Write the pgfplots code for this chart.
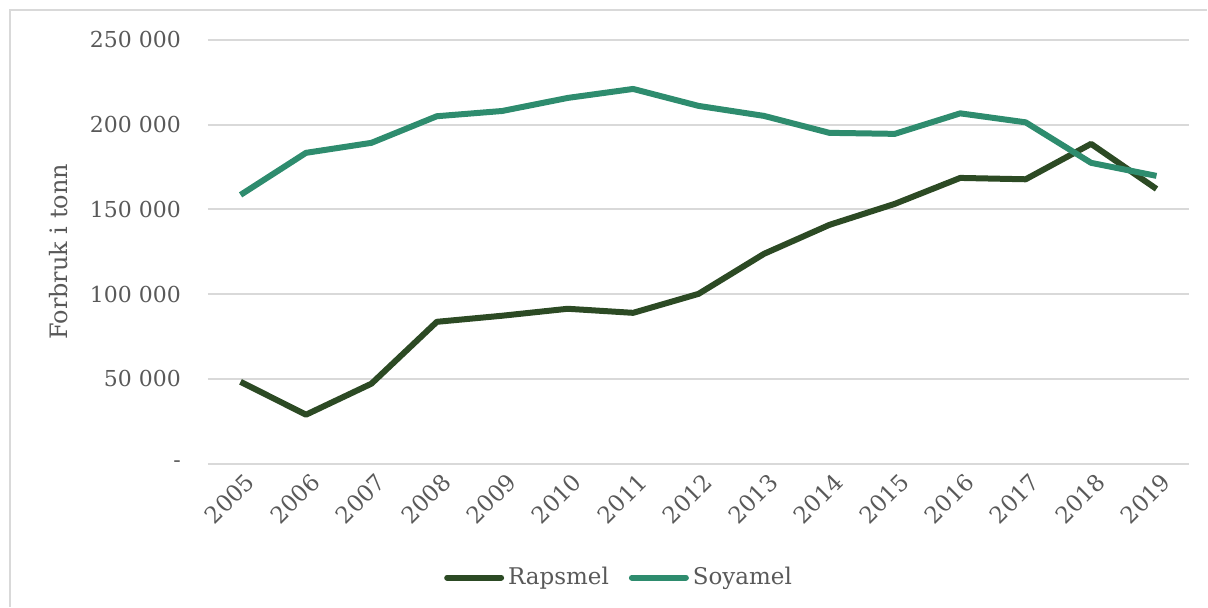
\documentclass[border=0pt]{standalone}
\usepackage{pgfplots}
\pgfplotsset{compat=1.18}
\usepackage{fontspec}
\setmainfont{DejaVu Serif}
\definecolor{rapsc}{HTML}{2C4A24}
\definecolor{soyac}{HTML}{2E8C6E}
\definecolor{txtc}{HTML}{595959}
\definecolor{gridc}{HTML}{D9D9D9}
\begin{document}
\begin{tikzpicture}
% chart frame (1px = 0.5pt)
\path (0,0) rectangle (604pt,303.5pt);
\draw[gridc, line width=0.8pt] (5pt,0) -- (5pt,298.5pt) -- (604pt,298.5pt);
\begin{axis}[
    at={(104pt,71.5pt)}, anchor=south west,
    scale only axis,
    width=491pt, height=212pt,
    xmin=2004.5, xmax=2019.5,
    ymin=0, ymax=250000,
    scaled y ticks=false,
    xtick={2005,...,2019},
    xticklabels={2005,2006,2007,2008,2009,2010,2011,2012,2013,2014,2015,2016,2017,2018,2019},
    ytick={0,50000,100000,150000,200000,250000},
    yticklabels={-\hspace{2.2em},50 000,100 000,150 000,200 000,250 000},
    axis line style={draw=none},
    major tick length=0pt,
    ymajorgrids,
    grid style={gridc, line width=1pt},
    x tick label style={font=\fontsize{11.5}{13}\selectfont, text=txtc, xshift=5pt, yshift=-7pt, rotate=45, anchor=east, inner sep=0pt},
    y tick label style={font=\fontsize{11}{13}\selectfont, text=txtc, xshift=-10pt},
    ylabel={Forbruk i tonn},
    ylabel style={font=\fontsize{12}{14}\selectfont, text=txtc, yshift=4pt},
    legend columns=-1,
    legend style={draw=none, at={(0.42,-0.269)}, anchor=center,
        font=\fontsize{11.5}{14}\selectfont, text=txtc,
        /tikz/every even column/.append style={column sep=8pt}},
    legend image code/.code={\draw[#1, line cap=round] (0pt,0pt) -- (27pt,0pt);},
    line join=round,
]
\addplot[rapsc, line width=3pt, mark=none] coordinates {
(2005,48300) (2006,28900) (2007,47200) (2008,83700) (2009,87300)
(2010,91400) (2011,89000) (2012,100200) (2013,123800) (2014,140900)
(2015,153300) (2016,168600) (2017,167800) (2018,188700) (2019,162100)
};
\addlegendentry{Rapsmel}
\addplot[soyac, line width=3pt, mark=none] coordinates {
(2005,158600) (2006,183400) (2007,189300) (2008,205000) (2009,208100)
(2010,215800) (2011,221100) (2012,211100) (2013,205200) (2014,195200)
(2015,194600) (2016,206700) (2017,201400) (2018,177500) (2019,169800)
};
\addlegendentry{Soyamel}
\end{axis}
\end{tikzpicture}
\end{document}
